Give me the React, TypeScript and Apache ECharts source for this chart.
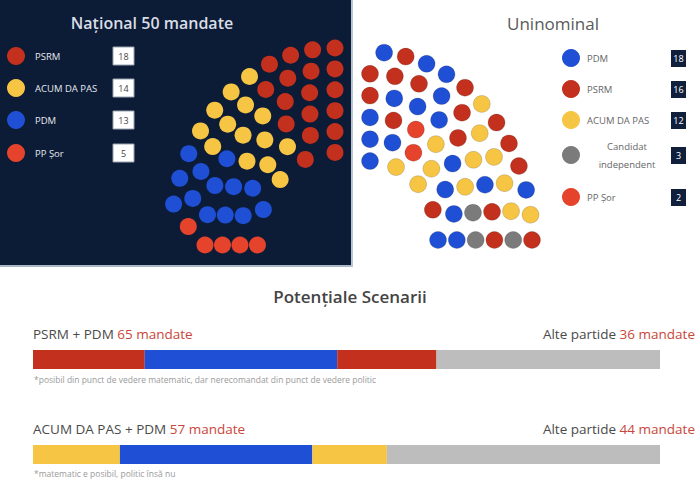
import React, { useEffect, useRef } from 'react';
import * as echarts from 'echarts';

const COLORS: Record<string, string> = {
  'PSRM': '#c3301d',
  'ACUM DA PAS': '#f6c544',
  'PDM': '#1f4fd5',
  'PP Șor': '#e6432c',
  'Candidat independent': '#7b7b7b',
  'Alte partide': '#bdbdbd',
};

const nationalTitle = 'Național 50 mandate';
const nationalParties = ['PSRM', 'ACUM DA PAS', 'PDM', 'PP Șor'];
const nationalSeats = [18, 14, 13, 5];
const nationalRows = [11, 10, 9, 8, 7, 5];

const uninominalTitle = 'Uninominal';
const uninominalParties = ['PDM', 'PSRM', 'ACUM DA PAS', 'Candidat independent', 'PP Șor'];
const uninominalLabels = ['PDM', 'PSRM', 'ACUM DA PAS', 'Candidat\nindependent', 'PP Șor'];
const uninominalSeats = [18, 16, 12, 3, 2];
const uninominalRows = [12, 10, 9, 8, 7, 5];
const uninominalCodes = ['D', 'S', 'A', 'I', 'O'];
const uninominalSeatOrder = 'SSDDDDSDSSDSDDAODDODSASASAAASDASADASDSADDISAASISIDD'.split('');

const scenariosTitle = 'Potențiale Scenarii';
const scenario1Title = 'PSRM + PDM';
const scenario1Parties = ['PSRM', 'PDM', 'PSRM', 'Alte partide'];
const scenario1Values = [18, 31, 16, 36];
const scenario1Note = '*posibil din punct de vedere matematic, dar nerecomandat din punct de vedere politic';
const scenario2Title = 'ACUM DA PAS + PDM';
const scenario2Parties = ['ACUM DA PAS', 'PDM', 'ACUM DA PAS', 'Alte partide'];
const scenario2Values = [14, 31, 12, 44];
const scenario2Note = '*matematic e posibil, politic însă nu';

const FONT = '"Open Sans", "Noto Sans", sans-serif';

type Seat = { phi: number; row: number; a: number; b: number };

// rows: seats per row (outer -> inner); spans: [startDeg, endDeg] per row
function hemicycle(rows: number[], tInner: number, spans: number[][]): Seat[] {
  const seats: Seat[] = [];
  rows.forEach((n, r) => {
    const t = 1 - (r * (1 - tInner)) / (rows.length - 1);
    const [s0, s1] = spans[r];
    for (let k = 0; k < n; k++) {
      const deg = s0 + (s1 - s0) * (n === 1 ? 0 : k / (n - 1));
      const phi = (deg * Math.PI) / 180;
      seats.push({ phi, row: r, a: t * Math.sin(phi), b: t * Math.cos(phi) });
    }
  });
  seats.sort((p, q) => p.phi - q.phi || p.row - q.row);
  return seats;
}

function txt(x: number, y: number, text: string, size: number, fill: string, opts: any = {}) {
  const align = opts.align || 'left';
  return {
    type: 'text',
    silent: true,
    style: {
      x, y, text, fill,
      fontSize: size,
      fontFamily: FONT,
      fontWeight: opts.weight || 'normal',
      align, textAlign: align,
      verticalAlign: 'middle', textVerticalAlign: 'middle',
      lineHeight: opts.lineHeight,
      rich: opts.rich,
    },
  };
}

export default function App() {
  const ref = useRef<HTMLDivElement>(null);

  useEffect(() => {
    document.body.style.margin = '0';
    const chart = echarts.init(ref.current!, null, { renderer: 'svg' });

    // National hemicycle
    const natLayout = hemicycle(nationalRows, 0.47, [[0, 78], [0, 84], [0, 90], [0, 90], [0, 90], [0, 90]]);
    const natParty: number[] = [];
    nationalSeats.forEach((n, pi) => { for (let i = 0; i < n; i++) natParty.push(pi); });
    const natSeries = nationalParties.map((p, pi) => ({
      type: 'scatter', name: p, xAxisIndex: 0, yAxisIndex: 0, symbolSize: 17, clip: false, silent: true,
      itemStyle: { color: COLORS[p], opacity: 1 },
      data: natLayout.filter((_, i) => natParty[i] === pi).map((s) => [-s.a, s.b]),
    }));

    // Uninominal hemicycle
    const uniLayout = hemicycle(uninominalRows, 0.42, [[5, 90], [0, 90], [0, 90], [0, 90], [0, 90], [0, 90]]);
    const uniSeries = uninominalParties.map((p, pi) => ({
      type: 'scatter', name: p, xAxisIndex: 1, yAxisIndex: 1, symbolSize: 17, clip: false, silent: true,
      itemStyle: { color: COLORS[p], opacity: 1, borderColor: 'rgba(0,0,0,0.15)', borderWidth: 1 },
      data: uniLayout.filter((_, i) => uninominalSeatOrder[i] === uninominalCodes[pi]).map((s) => [s.a, s.b]),
    }));

    const barSeries = (values: number[], parties: string[], idx: number) =>
      values.map((v, i) => ({
        type: 'bar', stack: 'sc' + idx, xAxisIndex: idx, yAxisIndex: idx, barWidth: '100%', silent: true,
        itemStyle: { color: COLORS[parties[i]] },
        data: [v],
      }));

    const total1 = scenario1Values.reduce((s, v) => s + v, 0);
    const total2 = scenario2Values.reduce((s, v) => s + v, 0);
    const coal = (vals: number[], parties: string[]) => vals.reduce((s, v, i) => s + (parties[i] === 'Alte partide' ? 0 : v), 0);
    const other = (vals: number[], parties: string[]) => vals.reduce((s, v, i) => s + (parties[i] === 'Alte partide' ? v : 0), 0);

    const rich = { a: { fill: '#4a4a4a', fontSize: 13.5, fontFamily: FONT }, b: { fill: '#c9463a', fontSize: 13.5, fontFamily: FONT } };

    const graphics: any[] = [
      { type: 'rect', silent: true, shape: { x: 0, y: 0, width: 351, height: 265 }, style: { fill: '#0c1b36' } },
      { type: 'rect', silent: true, shape: { x: 0, y: 265, width: 353, height: 2 }, style: { fill: '#a9b7c8' } },
      { type: 'rect', silent: true, shape: { x: 351, y: 0, width: 2, height: 267 }, style: { fill: '#b9c5d3' } },
      txt(152, 23, nationalTitle, 16, '#d9dee6', { align: 'center', weight: 600 }),
      txt(553, 23, uninominalTitle, 17, '#5a5a5a', { align: 'center' }),
      txt(350, 296, scenariosTitle, 17, '#444444', { align: 'center', weight: 600 }),
    ];

    const natY = [56, 88, 120, 153];
    nationalParties.forEach((p, i) => {
      graphics.push({ type: 'circle', silent: true, shape: { cx: 16, cy: natY[i], r: 9 }, style: { fill: COLORS[p] } });
      graphics.push(txt(35, natY[i], p, 9.5, '#e6e9ef'));
      graphics.push({ type: 'rect', silent: true, shape: { x: 113, y: natY[i] - 9, width: 21, height: 18 }, style: { fill: '#ffffff', stroke: '#9aa3ae', lineWidth: 1 } });
      graphics.push(txt(123.5, natY[i], String(nationalSeats[i]), 9, '#444', { align: 'center' }));
    });

    const uniY = [58, 89, 120, 155, 197];
    uninominalParties.forEach((p, i) => {
      graphics.push({ type: 'circle', silent: true, shape: { cx: 571, cy: uniY[i], r: 9 }, style: { fill: COLORS[p] } });
      if (uninominalLabels[i].includes('\n')) {
        graphics.push(txt(627, uniY[i], uninominalLabels[i], 9.5, '#666', { align: 'center', lineHeight: 18 }));
      } else {
        graphics.push(txt(587, uniY[i], uninominalLabels[i], 9.5, '#666'));
      }
      graphics.push({ type: 'rect', silent: true, shape: { x: 671, y: uniY[i] - 8, width: 15, height: 17 }, style: { fill: '#0f1f3c' } });
      graphics.push(txt(678.5, uniY[i] + 0.5, String(uninominalSeats[i]), 9, '#ffffff', { align: 'center' }));
    });

    graphics.push(txt(33, 334, `{a|${scenario1Title} }{b|${coal(scenario1Values, scenario1Parties)} mandate}`, 13.5, '#4a4a4a', { rich }));
    graphics.push(txt(695, 334, `{a|Alte partide }{b|${other(scenario1Values, scenario1Parties)} mandate}`, 13.5, '#4a4a4a', { rich, align: 'right' }));
    graphics.push(txt(34, 379, scenario1Note, 8.5, '#9a9a9a'));
    graphics.push(txt(33, 429, `{a|${scenario2Title} }{b|${coal(scenario2Values, scenario2Parties)} mandate}`, 13.5, '#4a4a4a', { rich }));
    graphics.push(txt(695, 429, `{a|Alte partide }{b|${other(scenario2Values, scenario2Parties)} mandate}`, 13.5, '#4a4a4a', { rich, align: 'right' }));
    graphics.push(txt(34, 473, scenario2Note, 8.5, '#9a9a9a'));

    chart.setOption({
      animation: false,
      backgroundColor: '#ffffff',
      graphic: { elements: graphics },
      grid: [
        { left: 170, top: 48, width: 165, height: 197 },
        { left: 370, top: 52, width: 162, height: 188 },
        { left: 33, top: 350, width: 627, height: 19 },
        { left: 33, top: 445, width: 627, height: 19 },
      ],
      xAxis: [
        { gridIndex: 0, type: 'value', min: -1, max: 0, show: false },
        { gridIndex: 1, type: 'value', min: 0, max: 1, show: false },
        { gridIndex: 2, type: 'value', min: 0, max: total1, show: false },
        { gridIndex: 3, type: 'value', min: 0, max: total2, show: false },
      ],
      yAxis: [
        { gridIndex: 0, type: 'value', min: 0, max: 1, show: false },
        { gridIndex: 1, type: 'value', min: 0, max: 1, show: false },
        { gridIndex: 2, type: 'category', data: ['s1'], show: false },
        { gridIndex: 3, type: 'category', data: ['s2'], show: false },
      ],
      series: [
        ...natSeries,
        ...uniSeries,
        ...barSeries(scenario1Values, scenario1Parties, 2),
        ...barSeries(scenario2Values, scenario2Parties, 3),
      ],
    });

    return () => chart.dispose();
  }, []);

  return <div ref={ref} style={{ width: 700, height: 486, position: 'absolute', left: 0, top: 0 }} />;
}
